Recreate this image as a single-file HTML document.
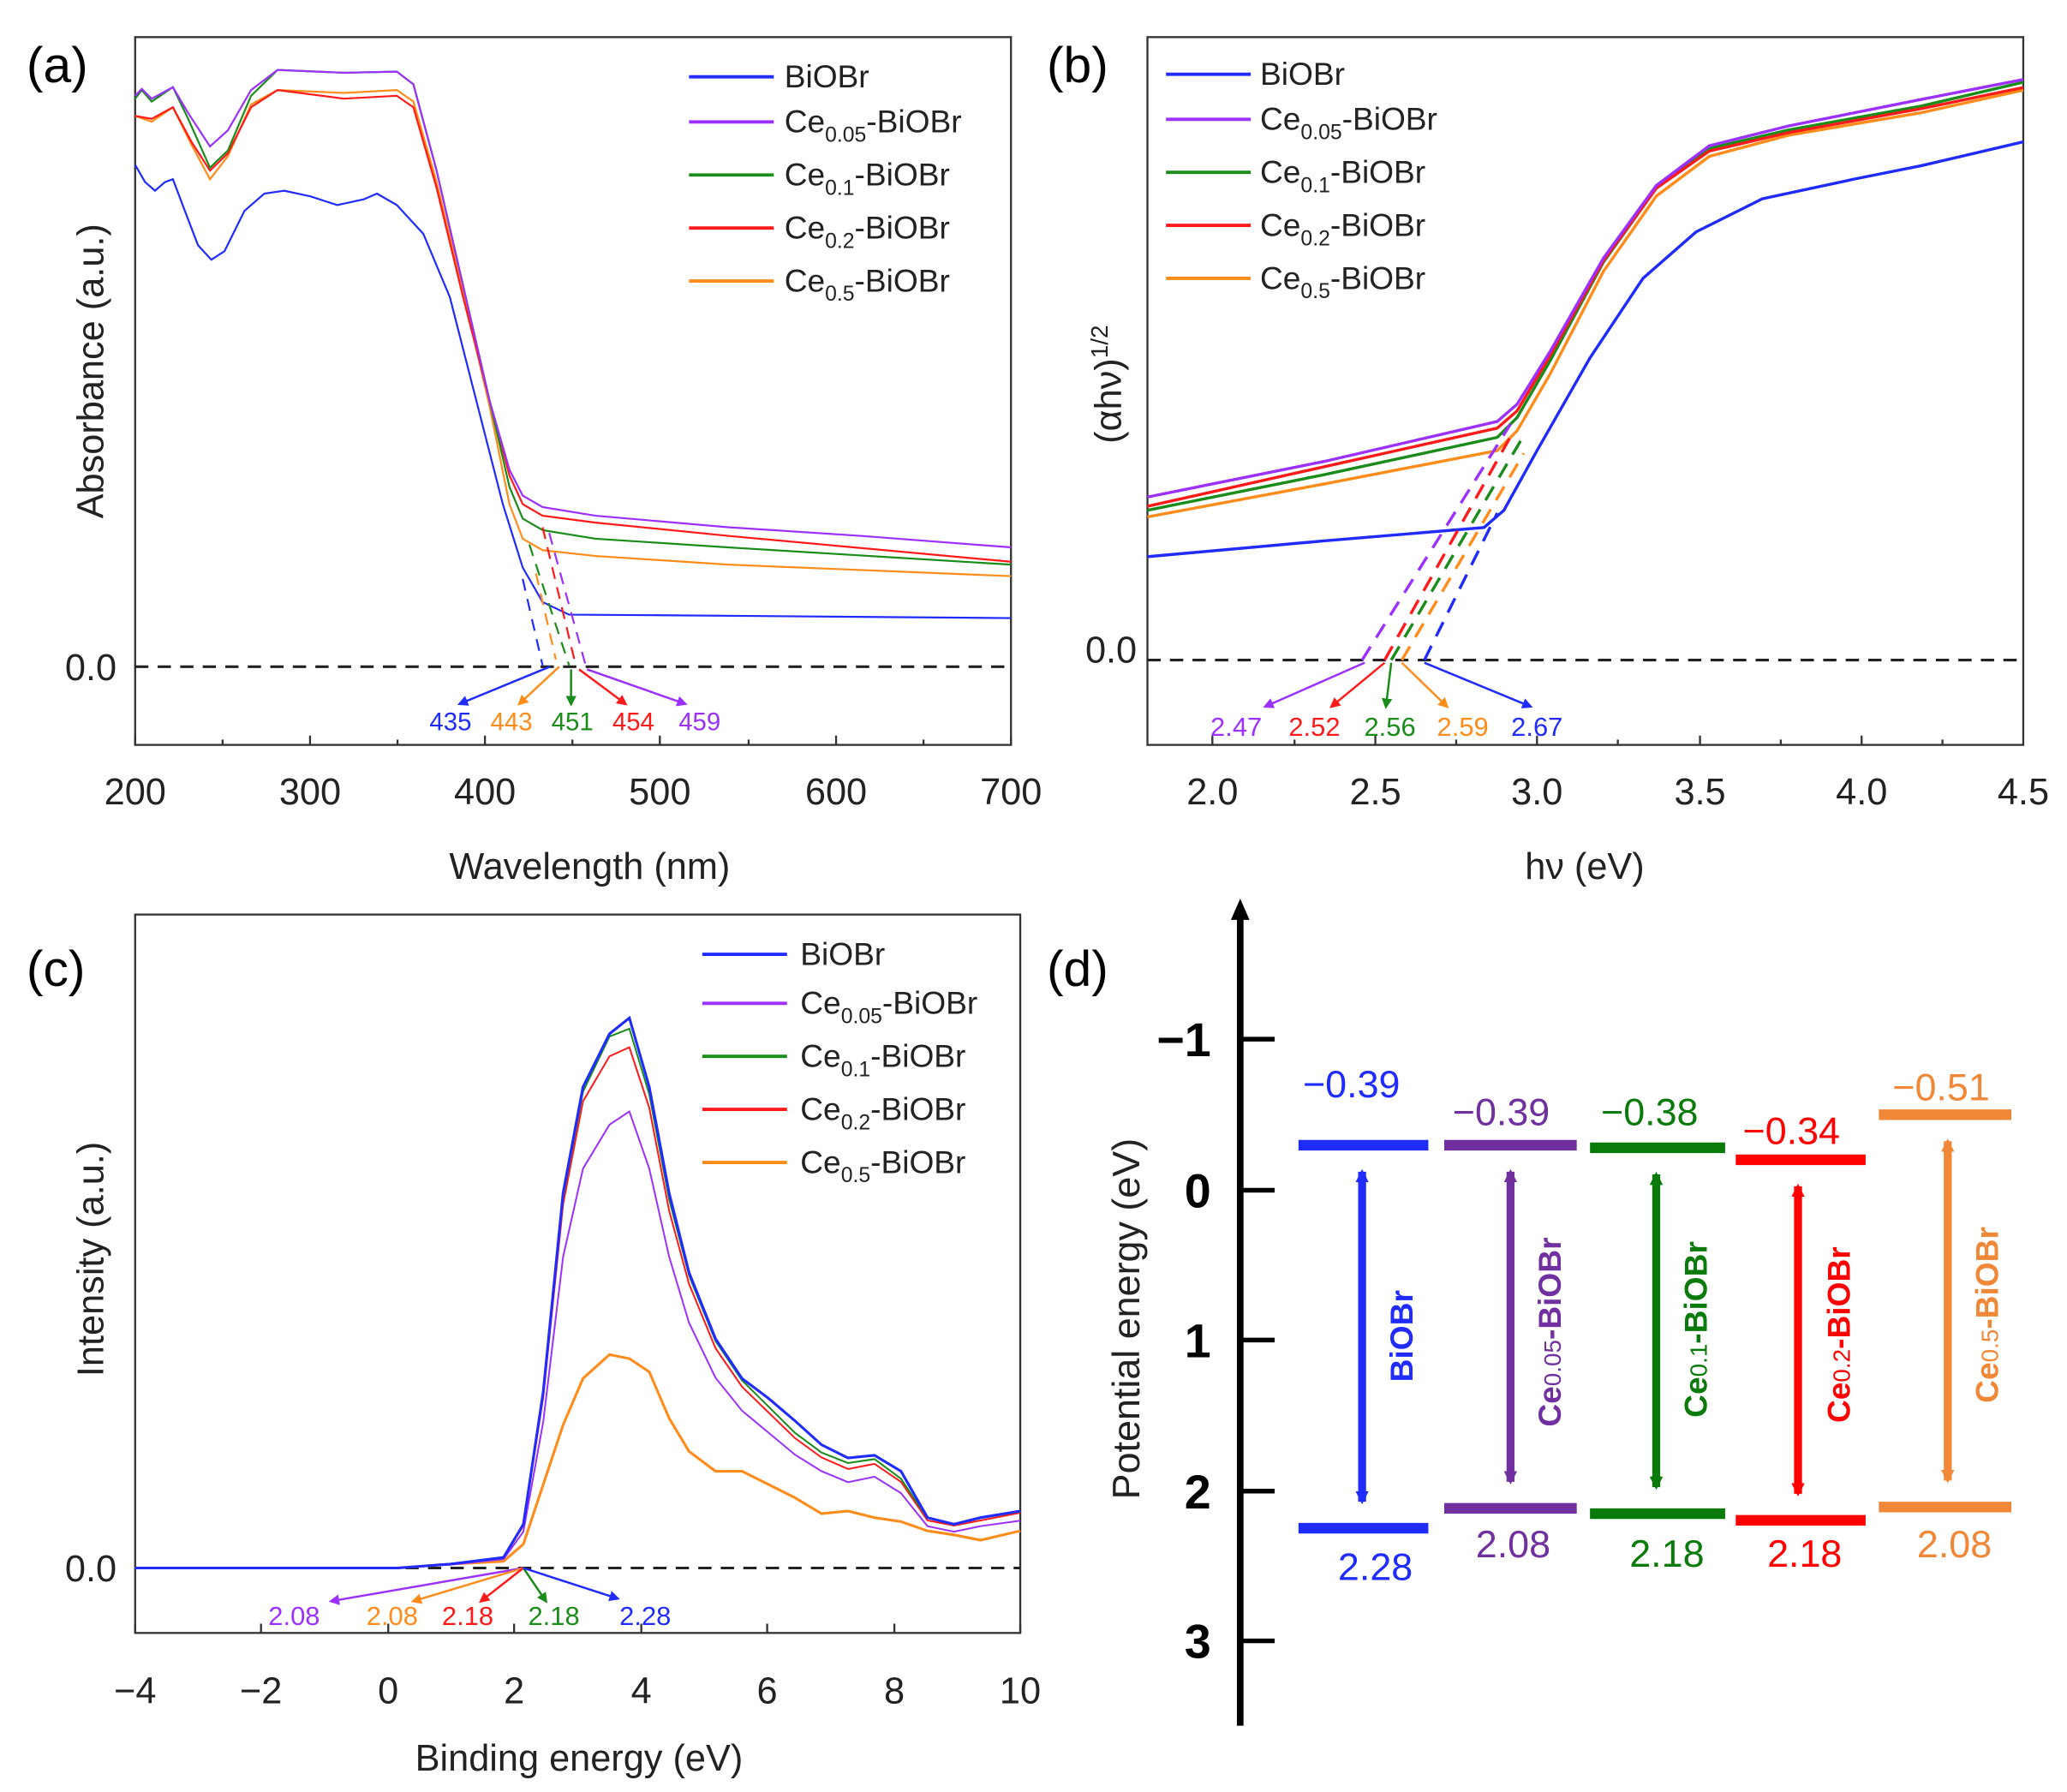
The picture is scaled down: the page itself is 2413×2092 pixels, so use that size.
<!DOCTYPE html>
<html><head><meta charset="utf-8"><style>
html,body{margin:0;padding:0;background:#fff}
svg{display:block}
text{font-family:"Liberation Sans",Arial,sans-serif}
</style></head><body>
<svg width="2413" height="2092" viewBox="0 0 1560 1352" preserveAspectRatio="none" xmlns="http://www.w3.org/2000/svg">
<defs>
<marker id="ah" markerWidth="8" markerHeight="8" refX="6" refY="4" orient="auto" markerUnits="userSpaceOnUse"><path d="M0,0 L8,4 L0,8 z" fill="context-stroke"/></marker>
<marker id="ab" viewBox="0 0 10 10" markerWidth="10" markerHeight="10" refX="8" refY="5" orient="auto-start-reverse" markerUnits="userSpaceOnUse"><path d="M0,0 L10,5 L0,10 z" fill="context-stroke"/></marker>
</defs>
<rect width="1560" height="1352" fill="#fff"/>

<!-- ===== Panel (a) ===== -->
<text x="20" y="62" font-size="38">(a)</text>
<rect x="102" y="28" width="661" height="534" fill="none" stroke="#333" stroke-width="1.5"/>
<g stroke="#333" stroke-width="1.5">
<line x1="102" y1="562" x2="102" y2="555"/><line x1="234" y1="562" x2="234" y2="555"/><line x1="366" y1="562" x2="366" y2="555"/><line x1="498" y1="562" x2="498" y2="555"/><line x1="631" y1="562" x2="631" y2="555"/><line x1="763" y1="562" x2="763" y2="555"/>
<line x1="168" y1="562" x2="168" y2="558"/><line x1="300" y1="562" x2="300" y2="558"/><line x1="432" y1="562" x2="432" y2="558"/><line x1="565" y1="562" x2="565" y2="558"/><line x1="697" y1="562" x2="697" y2="558"/>
</g>
<g font-size="28" text-anchor="middle" fill="#222">
<text x="102" y="607">200</text><text x="234" y="607">300</text><text x="366" y="607">400</text><text x="498" y="607">500</text><text x="631" y="607">600</text><text x="763" y="607">700</text>
</g>
<text x="445" y="663" font-size="28" text-anchor="middle" fill="#222">Wavelength (nm)</text>
<text transform="translate(78,280) rotate(-90)" font-size="28" text-anchor="middle" fill="#222">Absorbance (a.u.)</text>
<text x="88" y="513" font-size="28" text-anchor="end" fill="#222">0.0</text>
<line x1="102" y1="503" x2="763" y2="503" stroke="#222" stroke-width="2" stroke-dasharray="10,7"/>
<g transform="translate(102,28) scale(0.5,0.434) translate(-205,-68)" fill="none" stroke-width="2.2">
<path vector-effect="non-scaling-stroke" stroke="#1f2bff" d="M205,290 L220,320 L235,335 L250,320 L262,315 L280,370 L300,430 L320,455 L340,440 L370,370 L400,340 L430,335 L470,345 L510,360 L550,350 L570,340 L600,360 L640,410 L680,520 L720,700 L760,880 L790,990 L820,1050 L860,1072 L1000,1073 L1527,1078"/>
<path vector-effect="non-scaling-stroke" stroke="#ff8c1a" d="M205,205 L230,215 L262,190 L290,255 L318,315 L345,275 L380,185 L420,160 L520,165 L600,160 L625,180 L660,320 L700,510 L740,710 L770,880 L790,940 L820,960 L900,970 L1100,985 L1527,1005"/>
<path vector-effect="non-scaling-stroke" stroke="#ff1a1a" d="M205,205 L230,210 L262,190 L290,250 L318,300 L345,270 L380,190 L420,160 L520,175 L600,170 L625,190 L660,330 L700,520 L740,700 L770,830 L790,880 L820,900 L900,912 L1100,935 L1527,980"/>
<path vector-effect="non-scaling-stroke" stroke="#1a8c1a" d="M205,175 L215,160 L230,180 L262,155 L285,210 L318,295 L345,265 L380,170 L420,125 L520,130 L600,128 L625,150 L660,300 L700,500 L740,700 L770,850 L790,905 L820,925 L900,940 L1100,955 L1527,985"/>
<path vector-effect="non-scaling-stroke" stroke="#9b30ff" d="M205,170 L215,158 L230,175 L262,155 L285,200 L318,258 L345,230 L380,160 L420,125 L520,130 L600,128 L625,150 L660,300 L700,500 L740,700 L770,820 L790,865 L820,885 L900,900 L1100,920 L1300,935 L1527,955"/>
<g stroke-dasharray="14,10">
<path vector-effect="non-scaling-stroke" stroke="#1f2bff" d="M790,1010 L820,1160"/>
<path vector-effect="non-scaling-stroke" stroke="#ff8c1a" d="M810,1000 L840,1150"/>
<path vector-effect="non-scaling-stroke" stroke="#1a8c1a" d="M800,950 L860,1160"/>
<path vector-effect="non-scaling-stroke" stroke="#ff1a1a" d="M820,920 L870,1160"/>
<path vector-effect="non-scaling-stroke" stroke="#9b30ff" d="M830,930 L885,1160"/>
</g>
</g>
<g stroke-width="1.6" fill="none">
<line x1="415" y1="503" x2="347" y2="531" stroke="#1f2bff" marker-end="url(#ah)"/>
<line x1="422" y1="503" x2="392" y2="531" stroke="#ff8c1a" marker-end="url(#ah)"/>
<line x1="431" y1="505" x2="431" y2="531" stroke="#1a8c1a" marker-end="url(#ah)"/>
<line x1="437" y1="505" x2="472" y2="531" stroke="#ff1a1a" marker-end="url(#ah)"/>
<line x1="443" y1="505" x2="517" y2="531" stroke="#9b30ff" marker-end="url(#ah)"/>
</g>
<g font-size="19" text-anchor="middle">
<text x="340" y="551" fill="#1f2bff">435</text><text x="386" y="551" fill="#ff8c1a">443</text><text x="432" y="551" fill="#1a8c1a">451</text><text x="478" y="551" fill="#ff1a1a">454</text><text x="528" y="551" fill="#9b30ff">459</text>
</g>
<g stroke-width="2.5">
<line x1="520" y1="58" x2="584" y2="58" stroke="#1f2bff"/><line x1="520" y1="92" x2="584" y2="92" stroke="#9b30ff"/><line x1="520" y1="132" x2="584" y2="132" stroke="#1a8c1a"/><line x1="520" y1="172" x2="584" y2="172" stroke="#ff1a1a"/><line x1="520" y1="212" x2="584" y2="212" stroke="#ff8c1a"/>
</g>
<g font-size="24" fill="#222">
<text x="592" y="66">BiOBr</text>
<text x="592" y="100">Ce<tspan font-size="16" dy="7">0.05</tspan><tspan dy="-7">-BiOBr</tspan></text>
<text x="592" y="140">Ce<tspan font-size="16" dy="7">0.1</tspan><tspan dy="-7">-BiOBr</tspan></text>
<text x="592" y="180">Ce<tspan font-size="16" dy="7">0.2</tspan><tspan dy="-7">-BiOBr</tspan></text>
<text x="592" y="220">Ce<tspan font-size="16" dy="7">0.5</tspan><tspan dy="-7">-BiOBr</tspan></text>
</g>

<!-- ===== Panel (b) ===== -->
<text x="790" y="62" font-size="38">(b)</text>
<rect x="866" y="28" width="661" height="534" fill="none" stroke="#333" stroke-width="1.5"/>
<g stroke="#333" stroke-width="1.5">
<line x1="915" y1="562" x2="915" y2="555"/><line x1="1038" y1="562" x2="1038" y2="555"/><line x1="1160" y1="562" x2="1160" y2="555"/><line x1="1283" y1="562" x2="1283" y2="555"/><line x1="1405" y1="562" x2="1405" y2="555"/>
<line x1="977" y1="562" x2="977" y2="558"/><line x1="1099" y1="562" x2="1099" y2="558"/><line x1="1221" y1="562" x2="1221" y2="558"/><line x1="1344" y1="562" x2="1344" y2="558"/><line x1="1466" y1="562" x2="1466" y2="558"/>
</g>
<g font-size="28" text-anchor="middle" fill="#222">
<text x="915" y="607">2.0</text><text x="1038" y="607">2.5</text><text x="1160" y="607">3.0</text><text x="1283" y="607">3.5</text><text x="1405" y="607">4.0</text><text x="1527" y="607">4.5</text>
</g>
<text x="1196" y="663" font-size="28" text-anchor="middle" fill="#222">hν (eV)</text>
<text transform="translate(846,290) rotate(-90)" font-size="28" text-anchor="middle" fill="#222" font-family="Liberation Serif">(αhν)<tspan font-size="18" dy="-10">1/2</tspan></text>
<text x="858" y="500" font-size="28" text-anchor="end" fill="#222">0.0</text>
<line x1="866" y1="498" x2="1527" y2="498" stroke="#222" stroke-width="2" stroke-dasharray="10,7"/>
<g fill="none" stroke-width="2.2">
<path stroke="#1f2bff" d="M866,420 L1000,408 L1120,398 L1135,385 L1160,340 L1200,270 L1240,210 L1280,175 L1330,150 L1400,135 L1450,125 L1527,107"/>
<path stroke="#ff8c1a" d="M866,390 L1000,365 L1130,340 L1145,325 L1170,282 L1210,205 L1250,148 L1290,118 L1350,102 L1450,85 L1527,68"/>
<path stroke="#1a8c1a" d="M866,385 L1000,358 L1130,330 L1145,315 L1170,272 L1210,198 L1250,142 L1290,112 L1350,98 L1450,80 L1527,62"/>
<path stroke="#ff1a1a" d="M866,382 L1000,352 L1130,323 L1145,310 L1170,268 L1210,197 L1250,142 L1290,114 L1350,100 L1450,82 L1527,66"/>
<path stroke="#9b30ff" d="M866,375 L1000,348 L1130,318 L1145,305 L1170,265 L1210,195 L1250,140 L1290,110 L1350,95 L1450,75 L1527,60"/>
<g stroke-dasharray="12,8">
<path stroke="#9b30ff" d="M1028,498 L1140,320"/>
<path stroke="#ff1a1a" d="M1045,498 L1142,326"/>
<path stroke="#1a8c1a" d="M1050,498 L1148,332"/>
<path stroke="#ff8c1a" d="M1058,498 L1150,342"/>
<path stroke="#1f2bff" d="M1075,498 L1130,387"/>
</g>
</g>
<g stroke-width="1.6" fill="none">
<line x1="1030" y1="500" x2="955" y2="533" stroke="#9b30ff" marker-end="url(#ah)"/>
<line x1="1045" y1="500" x2="1005" y2="533" stroke="#ff1a1a" marker-end="url(#ah)"/>
<line x1="1050" y1="500" x2="1046" y2="533" stroke="#1a8c1a" marker-end="url(#ah)"/>
<line x1="1058" y1="500" x2="1092" y2="533" stroke="#ff8c1a" marker-end="url(#ah)"/>
<line x1="1075" y1="500" x2="1155" y2="533" stroke="#1f2bff" marker-end="url(#ah)"/>
</g>
<g font-size="20" text-anchor="middle">
<text x="933" y="555" fill="#9b30ff">2.47</text><text x="992" y="555" fill="#ff1a1a">2.52</text><text x="1049" y="555" fill="#1a8c1a">2.56</text><text x="1104" y="555" fill="#ff8c1a">2.59</text><text x="1160" y="555" fill="#1f2bff">2.67</text>
</g>
<g stroke-width="2.5">
<line x1="880" y1="56" x2="944" y2="56" stroke="#1f2bff"/><line x1="880" y1="90" x2="944" y2="90" stroke="#9b30ff"/><line x1="880" y1="130" x2="944" y2="130" stroke="#1a8c1a"/><line x1="880" y1="170" x2="944" y2="170" stroke="#ff1a1a"/><line x1="880" y1="210" x2="944" y2="210" stroke="#ff8c1a"/>
</g>
<g font-size="24" fill="#222">
<text x="951" y="64">BiOBr</text>
<text x="951" y="98">Ce<tspan font-size="16" dy="7">0.05</tspan><tspan dy="-7">-BiOBr</tspan></text>
<text x="951" y="138">Ce<tspan font-size="16" dy="7">0.1</tspan><tspan dy="-7">-BiOBr</tspan></text>
<text x="951" y="178">Ce<tspan font-size="16" dy="7">0.2</tspan><tspan dy="-7">-BiOBr</tspan></text>
<text x="951" y="218">Ce<tspan font-size="16" dy="7">0.5</tspan><tspan dy="-7">-BiOBr</tspan></text>
</g>

<!-- ===== Panel (c) ===== -->
<text x="20" y="744" font-size="38">(c)</text>
<rect x="102" y="690" width="668" height="542" fill="none" stroke="#333" stroke-width="1.5"/>
<g stroke="#333" stroke-width="1.5">
<line x1="102" y1="1232" x2="102" y2="1225"/><line x1="197" y1="1232" x2="197" y2="1225"/><line x1="293" y1="1232" x2="293" y2="1225"/><line x1="388" y1="1232" x2="388" y2="1225"/><line x1="484" y1="1232" x2="484" y2="1225"/><line x1="579" y1="1232" x2="579" y2="1225"/><line x1="675" y1="1232" x2="675" y2="1225"/><line x1="770" y1="1232" x2="770" y2="1225"/>
</g>
<g font-size="28" text-anchor="middle" fill="#222">
<text x="102" y="1285">−4</text><text x="197" y="1285">−2</text><text x="293" y="1285">0</text><text x="388" y="1285">2</text><text x="484" y="1285">4</text><text x="579" y="1285">6</text><text x="675" y="1285">8</text><text x="770" y="1285">10</text>
</g>
<text x="437" y="1336" font-size="28" text-anchor="middle" fill="#222">Binding energy (eV)</text>
<text transform="translate(78,950) rotate(-90)" font-size="28" text-anchor="middle" fill="#222">Intensity (a.u.)</text>
<text x="88" y="1193" font-size="28" text-anchor="end" fill="#222">0.0</text>
<line x1="102" y1="1183" x2="770" y2="1183" stroke="#222" stroke-width="2" stroke-dasharray="10,7"/>
<g fill="none" stroke-width="2">
<path stroke="#ff8c1a" d="M102,1183 L300,1183 L340,1180 L380,1178 L395,1165 L410,1120 L425,1075 L440,1040 L460,1022 L475,1025 L490,1035 L505,1070 L520,1095 L540,1110 L560,1110 L580,1120 L600,1130 L620,1142 L640,1140 L660,1145 L680,1148 L700,1155 L720,1158 L740,1162 L770,1155"/>
<path vector-effect="non-scaling-stroke" transform="translate(0,1183) scale(1,0.83) translate(0,-1183)" stroke="#9b30ff" d="M102,1183 L300,1183 L340,1180 L380,1175 L395,1150 L410,1050 L425,900 L440,820 L460,780 L475,768 L490,820 L505,900 L520,960 L540,1010 L560,1040 L580,1060 L600,1080 L620,1095 L640,1105 L660,1100 L680,1115 L700,1145 L720,1150 L740,1145 L770,1140"/>
<path vector-effect="non-scaling-stroke" transform="translate(0,1183) scale(1,0.97) translate(0,-1183)" stroke="#ff1a1a" d="M102,1183 L300,1183 L340,1180 L380,1175 L395,1150 L410,1050 L425,900 L440,820 L460,785 L475,778 L490,825 L505,905 L520,962 L540,1012 L560,1042 L580,1062 L600,1082 L620,1097 L640,1106 L660,1102 L680,1116 L700,1146 L720,1150 L740,1146 L770,1140"/>
<path vector-effect="non-scaling-stroke" transform="translate(0,1183) scale(1,0.99) translate(0,-1183)" stroke="#1a8c1a" d="M102,1183 L300,1183 L340,1180 L380,1175 L395,1150 L410,1050 L425,900 L440,820 L460,778 L475,772 L490,822 L505,902 L520,960 L540,1010 L560,1040 L580,1060 L600,1080 L620,1095 L640,1103 L660,1100 L680,1115 L700,1145 L720,1150 L740,1145 L770,1140"/>
<path stroke="#1f2bff" d="M102,1183 L300,1183 L340,1180 L380,1175 L395,1150 L410,1050 L425,900 L440,820 L460,780 L475,768 L490,820 L505,900 L520,960 L540,1010 L560,1040 L580,1055 L600,1072 L620,1090 L640,1100 L660,1098 L680,1110 L700,1145 L720,1150 L740,1145 L770,1140"/>
</g>
<g stroke-width="1.6" fill="none">
<line x1="395" y1="1183" x2="250" y2="1208" stroke="#9b30ff" marker-end="url(#ah)"/>
<line x1="395" y1="1183" x2="312" y2="1208" stroke="#ff8c1a" marker-end="url(#ah)"/>
<line x1="395" y1="1183" x2="363" y2="1208" stroke="#ff1a1a" marker-end="url(#ah)"/>
<line x1="395" y1="1183" x2="412" y2="1208" stroke="#1a8c1a" marker-end="url(#ah)"/>
<line x1="395" y1="1183" x2="466" y2="1206" stroke="#1f2bff" marker-end="url(#ah)"/>
</g>
<g font-size="20" text-anchor="middle">
<text x="222" y="1226" fill="#9b30ff">2.08</text><text x="296" y="1226" fill="#ff8c1a">2.08</text><text x="353" y="1226" fill="#ff1a1a">2.18</text><text x="418" y="1226" fill="#1a8c1a">2.18</text><text x="487" y="1226" fill="#1f2bff">2.28</text>
</g>
<g stroke-width="2.5">
<line x1="530" y1="720" x2="594" y2="720" stroke="#1f2bff"/><line x1="530" y1="757" x2="594" y2="757" stroke="#9b30ff"/><line x1="530" y1="797" x2="594" y2="797" stroke="#1a8c1a"/><line x1="530" y1="837" x2="594" y2="837" stroke="#ff1a1a"/><line x1="530" y1="877" x2="594" y2="877" stroke="#ff8c1a"/>
</g>
<g font-size="24" fill="#222">
<text x="604" y="728">BiOBr</text>
<text x="604" y="765">Ce<tspan font-size="16" dy="7">0.05</tspan><tspan dy="-7">-BiOBr</tspan></text>
<text x="604" y="805">Ce<tspan font-size="16" dy="7">0.1</tspan><tspan dy="-7">-BiOBr</tspan></text>
<text x="604" y="845">Ce<tspan font-size="16" dy="7">0.2</tspan><tspan dy="-7">-BiOBr</tspan></text>
<text x="604" y="885">Ce<tspan font-size="16" dy="7">0.5</tspan><tspan dy="-7">-BiOBr</tspan></text>
</g>

<!-- ===== Panel (d) ===== -->
<text x="790" y="744" font-size="38">(d)</text>
<line x1="936" y1="1302" x2="936" y2="690" stroke="#000" stroke-width="5"/>
<path d="M929,694 L936,678 L943,694 z" fill="#000"/>
<g stroke="#000" stroke-width="3.5">
<line x1="936" y1="784" x2="962" y2="784"/><line x1="936" y1="898" x2="962" y2="898"/><line x1="936" y1="1011" x2="962" y2="1011"/><line x1="936" y1="1125" x2="962" y2="1125"/><line x1="936" y1="1238" x2="962" y2="1238"/>
</g>
<g font-size="36" font-weight="bold" text-anchor="end" fill="#000">
<text x="914" y="797">−1</text><text x="914" y="911">0</text><text x="914" y="1024">1</text><text x="914" y="1138">2</text><text x="914" y="1251">3</text>
</g>
<text transform="translate(860,995) rotate(-90)" font-size="29" text-anchor="middle" fill="#222">Potential energy (eV)</text>

<g stroke-width="8">
<line x1="980" y1="864" x2="1078" y2="864" stroke="#1f2bff"/><line x1="980" y1="1153" x2="1078" y2="1153" stroke="#1f2bff"/>
<line x1="1090" y1="864" x2="1190" y2="864" stroke="#7030a0"/><line x1="1090" y1="1138" x2="1190" y2="1138" stroke="#7030a0"/>
<line x1="1200" y1="866" x2="1302" y2="866" stroke="#0a7a0a"/><line x1="1200" y1="1142" x2="1302" y2="1142" stroke="#0a7a0a"/>
<line x1="1310" y1="875" x2="1408" y2="875" stroke="#ff0000"/><line x1="1310" y1="1147" x2="1408" y2="1147" stroke="#ff0000"/>
<line x1="1418" y1="841" x2="1518" y2="841" stroke="#f08838"/><line x1="1418" y1="1137" x2="1518" y2="1137" stroke="#f08838"/>
</g>
<g stroke-width="6" fill="none">
<line x1="1028" y1="884" x2="1028" y2="1133" stroke="#1f2bff" marker-start="url(#ab)" marker-end="url(#ab)"/>
<line x1="1140" y1="884" x2="1140" y2="1118" stroke="#7030a0" marker-start="url(#ab)" marker-end="url(#ab)"/>
<line x1="1250" y1="886" x2="1250" y2="1122" stroke="#0a7a0a" marker-start="url(#ab)" marker-end="url(#ab)"/>
<line x1="1357" y1="895" x2="1357" y2="1127" stroke="#ff0000" marker-start="url(#ab)" marker-end="url(#ab)"/>
<line x1="1470" y1="861" x2="1470" y2="1117" stroke="#f08838" marker-start="url(#ab)" marker-end="url(#ab)"/>
</g>
<g font-size="29" text-anchor="middle">
<text x="1020" y="828" fill="#1f2bff">−0.39</text><text x="1038" y="1192" fill="#1f2bff">2.28</text>
<text x="1133" y="849" fill="#7030a0">−0.39</text><text x="1142" y="1175" fill="#7030a0">2.08</text>
<text x="1245" y="849" fill="#0a7a0a">−0.38</text><text x="1258" y="1182" fill="#0a7a0a">2.18</text>
<text x="1352" y="863" fill="#ff0000">−0.34</text><text x="1362" y="1182" fill="#ff0000">2.18</text>
<text x="1465" y="830" fill="#f08838">−0.51</text><text x="1475" y="1175" fill="#f08838">2.08</text>
</g>
<g font-size="24" font-weight="bold" text-anchor="middle">
<text transform="translate(1066,1008) rotate(-90)" fill="#1f2bff">BiOBr</text>
<text transform="translate(1178,1005) rotate(-90)" fill="#7030a0">Ce<tspan font-size="18" font-weight="normal">0.05</tspan>-BiOBr</text>
<text transform="translate(1288,1003) rotate(-90)" fill="#0a7a0a">Ce<tspan font-size="18" font-weight="normal">0.1</tspan>-BiOBr</text>
<text transform="translate(1396,1007) rotate(-90)" fill="#ff0000">Ce<tspan font-size="18" font-weight="normal">0.2</tspan>-BiOBr</text>
<text transform="translate(1508,992) rotate(-90)" fill="#f08838">Ce<tspan font-size="18" font-weight="normal">0.5</tspan>-BiOBr</text>
</g>
</svg>
</body></html>
